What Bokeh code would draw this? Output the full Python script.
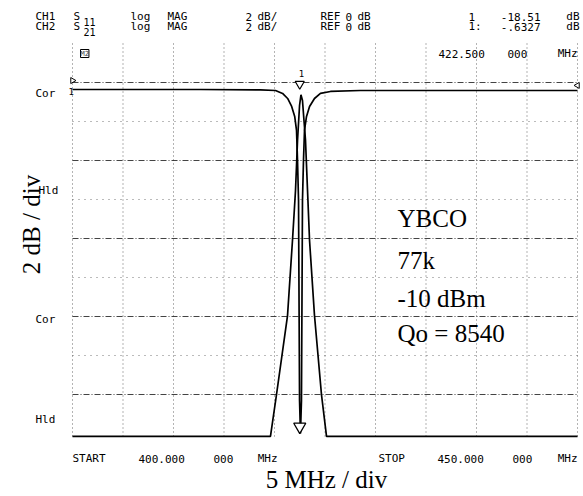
import numpy as np
from bokeh.plotting import figure
from bokeh.models import Range1d, Label
from bokeh.embed import file_html
from bokeh.resources import INLINE

# ---------------- data ----------------
# CH1: S11 log MAG (dB) vs frequency (MHz)
s11_freq = [400.0, 412.7, 418.6, 420.1, 420.8, 421.3, 421.7, 422.0, 422.18, 422.28,
            422.38, 422.43, 422.48, 422.57, 422.67, 422.72, 422.77, 422.87, 422.97,
            423.17, 423.47, 423.96, 424.55, 425.54, 428.5, 450.0]
s11_db = [-0.36, -0.36, -0.38, -0.41, -0.56, -0.82, -1.23, -1.74, -2.46, -4.0,
          -6.05, -11.2, -16.3, -18.0, -16.3, -11.2, -6.05, -4.0, -2.46,
          -1.74, -1.23, -0.82, -0.56, -0.46, -0.41, -0.41]
# CH2: S21 log MAG (dB) vs frequency (MHz)
s21_freq = [400.0, 419.6, 420.2, 421.29, 421.78, 422.08, 422.28, 422.48, 422.62,
            422.77, 422.92, 423.07, 423.27, 423.47, 423.96, 424.65, 425.15, 450.0]
s21_db = [-18.15, -18.15, -16.0, -11.95, -8.1, -5.54, -2.97, -1.18, -0.63,
          -0.92, -1.95, -2.97, -5.54, -8.1, -11.95, -16.0, -18.15, -18.15]

marker_freq = 422.5
grid_freqs = [400, 405, 410, 415, 420, 425, 430, 435, 440, 445, 450]
grid_db_major = [0, -4, -8, -12, -16]
grid_db_minor = [-2, -6, -10, -14]
grid_db_top, grid_db_bottom = 2.0, -18.15

# ---------------- layout mapping (page pixels) ----------------
W, H = 583, 496
SX = 10.1             # px per MHz
SY = 19.5             # px per dB
X0 = 400 - 72 / SX
X1 = X0 + W / SX
Y1 = 82 / SY
Y0 = Y1 - H / SY


def dx(page_x):
    return X0 + page_x / SX


def dy(page_y):
    return Y1 - page_y / SY


p = figure(width=W, height=H, output_backend="svg", toolbar_location=None,
           x_range=Range1d(X0, X1), y_range=Range1d(Y0, Y1),
           x_axis_type=None, y_axis_type=None, min_border=0)
p.outline_line_color = None
p.background_fill_color = "white"
p.border_fill_color = "white"

# graticule
p.segment(x0=grid_freqs, x1=grid_freqs, y0=[grid_db_top] * len(grid_freqs),
          y1=[grid_db_bottom] * len(grid_freqs), line_color="#444",
          line_width=1, line_dash="1 3", line_alpha=0.8)
p.segment(x0=[grid_freqs[0]] * len(grid_db_major), x1=[grid_freqs[-1]] * len(grid_db_major),
          y0=grid_db_major, y1=grid_db_major, line_color="#222", line_width=1,
          line_dash="6 2 1 2", line_alpha=0.85)
p.segment(x0=[grid_freqs[0]] * len(grid_db_minor), x1=[grid_freqs[-1]] * len(grid_db_minor),
          y0=grid_db_minor, y1=grid_db_minor, line_color="#555", line_width=1,
          line_dash="1 5", line_alpha=0.8)

# traces
p.line(s11_freq, s11_db, line_color="black", line_width=1.7)
p.line(s21_freq, s21_db, line_color="black", line_width=1.7)

# markers
p.scatter([marker_freq], [max(s21_db) + 0.55], marker="inverted_triangle", size=9,
          fill_color="white", line_color="black", line_width=1.2)
p.scatter([marker_freq], [min(s11_db) + 0.35], marker="inverted_triangle", size=12,
          fill_color="white", line_color="black", line_width=1.3)
p.scatter([grid_freqs[0]], [grid_db_major[0] + 0.1], marker="triangle", angle=-np.pi / 2,
          size=6, fill_color="white", line_color="black")
p.scatter([grid_freqs[-1]], [grid_db_major[0] - 0.15], marker="triangle", angle=np.pi / 2,
          size=6, fill_color="white", line_color="black")

MONO = "DejaVu Sans Mono"
SERIF = "Liberation Serif"


def txt(text, px, py, size="11px", font=MONO, align="left", baseline="middle",
        angle=0.0, color="#000"):
    p.add_layout(Label(x=dx(px), y=dy(py), text=text, text_font=font,
                       text_font_size=size, text_align=align,
                       text_baseline=baseline, angle=angle, text_color=color))


# header
for row, (ch, sub, val, y) in enumerate([("CH1", "11", "-18.51", 16),
                                          ("CH2", "21", "-.6327", 26)]):
    txt(ch, 35, y)
    txt("S", 73, y)
    txt(sub, 83, y + 5, size="10px")
    txt("log", 130, y)
    txt("MAG", 167, y)
    txt("2", 245, y)
    txt("dB/", 257, y)
    txt("REF", 320, y)
    txt("0", 345, y)
    txt("dB", 357, y)
    txt("1" if row == 0 else "1:", 468, y)
    txt(val, 540, y, align="right")
    txt("dB", 579, y, align="right")

txt("422.500", 438, 53)
txt("000", 507, 53)
txt("MHz", 577, 53, align="right")
p.add_layout(Label(x=dx(80), y=dy(53), text="M2", text_font=MONO, text_font_size="7px",
                   text_baseline="middle", border_line_color="black",
                   background_fill_color="white"))

# top marker number
txt("1", 301, 73, size="9px", align="center")
txt("1", 68, 91, size="9px")

# left annotations
txt("Cor", 35, 93)
txt("Hld", 38, 190)
txt("Cor", 35, 319)
txt("Hld", 35, 419)

# bottom annotations
txt("START", 72, 458)
txt("400.000", 138, 458)
txt("000", 213, 458)
txt("MHz", 277, 458, align="right")
txt("STOP", 378, 458)
txt("450.000", 437, 458)
txt("000", 512, 458)
txt("MHz", 577, 458, align="right")

# axis descriptions
txt("2 dB / div", 31, 224, size="25px", font=SERIF, align="center", angle=np.pi / 2)
txt("5 MHz / div", 326, 479, size="25px", font=SERIF, align="center")

# sample annotation
for t, yb in [("YBCO", 218), ("77k", 260), ("-10 dBm", 298), ("Qo = 8540", 333)]:
    txt(t, 397, yb, size="25px", font=SERIF, baseline="alphabetic")

open("out.html", "w").write(file_html(p, INLINE))
